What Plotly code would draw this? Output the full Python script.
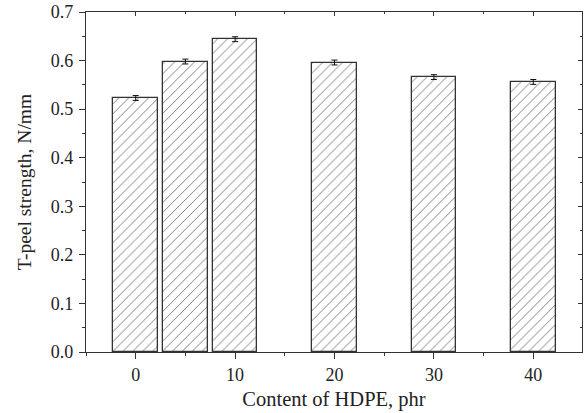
import plotly.graph_objects as go

# HDPE content (phr) and measured T-peel strength (N/mm)
hdpe_phr = [0, 5, 10, 20, 30, 40]
peel_strength = [0.523, 0.598, 0.644, 0.596, 0.566, 0.556]
peel_error = [0.005, 0.005, 0.005, 0.005, 0.005, 0.005]

x_ticks = [0, 10, 20, 30, 40]
y_ticks = [0.0, 0.1, 0.2, 0.3, 0.4, 0.5, 0.6, 0.7]

FONT = "Liberation Serif, Times New Roman, serif"
AXIS = "#333333"

fig = go.Figure()

fig.add_trace(go.Bar(
    x=hdpe_phr,
    y=peel_strength,
    width=4.5,
    marker=dict(
        color="white",
        line=dict(color=AXIS, width=1.3),
        pattern=dict(shape="/", size=7, solidity=0.14, fgcolor="#000000", bgcolor="white"),
    ),
    error_y=dict(type="data", array=peel_error, color="#111111", thickness=1, width=3),
    showlegend=False,
))

# invisible trace to carry the top/right frame axes
fig.add_trace(go.Scatter(x=[None], y=[None], xaxis="x2", yaxis="y2", showlegend=False))

fig.update_layout(
    width=584, height=413,
    margin=dict(l=86, r=2, t=12, b=61),
    paper_bgcolor="white", plot_bgcolor="white",
    font=dict(family=FONT, size=18, color="#222222"),
    bargap=0,
    xaxis=dict(
        range=[-5, 44.9], tickvals=x_ticks, ticks="outside", ticklen=6, tickwidth=1,
        tickcolor=AXIS, showline=True, linecolor=AXIS, linewidth=1.2, showgrid=False,
        zeroline=False, tickfont=dict(size=18, family=FONT), ticklabelstandoff=0,
        minor=dict(ticks="outside", dtick=5, tick0=0, ticklen=3, tickcolor=AXIS),
        title=dict(text="Content of HDPE, phr", font=dict(size=20.5, family=FONT), standoff=7),
    ),
    yaxis=dict(
        range=[0, 0.7], tickvals=y_ticks, tickformat=".1f", ticks="outside", ticklen=6,
        tickwidth=1, tickcolor=AXIS, showline=True, linecolor=AXIS, linewidth=1.2,
        showgrid=False, zeroline=False, tickfont=dict(size=18, family=FONT),
        ticklabelstandoff=2,
        minor=dict(ticks="outside", dtick=0.05, tick0=0, ticklen=3, tickcolor=AXIS),
        title=dict(text="T-peel strength, N/mm", font=dict(size=19.5, family=FONT), standoff=13),
    ),
    xaxis2=dict(
        overlaying="x", side="top", range=[-5, 44.9], tickvals=x_ticks, ticks="inside",
        ticklen=4, tickcolor=AXIS, showticklabels=False, showline=True, linecolor=AXIS,
        linewidth=1.2, showgrid=False, zeroline=False,
        minor=dict(ticks="inside", dtick=5, tick0=0, ticklen=2, tickcolor=AXIS),
    ),
    yaxis2=dict(
        overlaying="y", side="right", range=[0, 0.7], tickvals=y_ticks, ticks="inside",
        ticklen=4, tickcolor=AXIS, showticklabels=False, showline=True, linecolor=AXIS,
        linewidth=1.2, showgrid=False, zeroline=False,
        minor=dict(ticks="inside", dtick=0.05, tick0=0, ticklen=2, tickcolor=AXIS),
    ),
)

fig.write_html("out.html")
